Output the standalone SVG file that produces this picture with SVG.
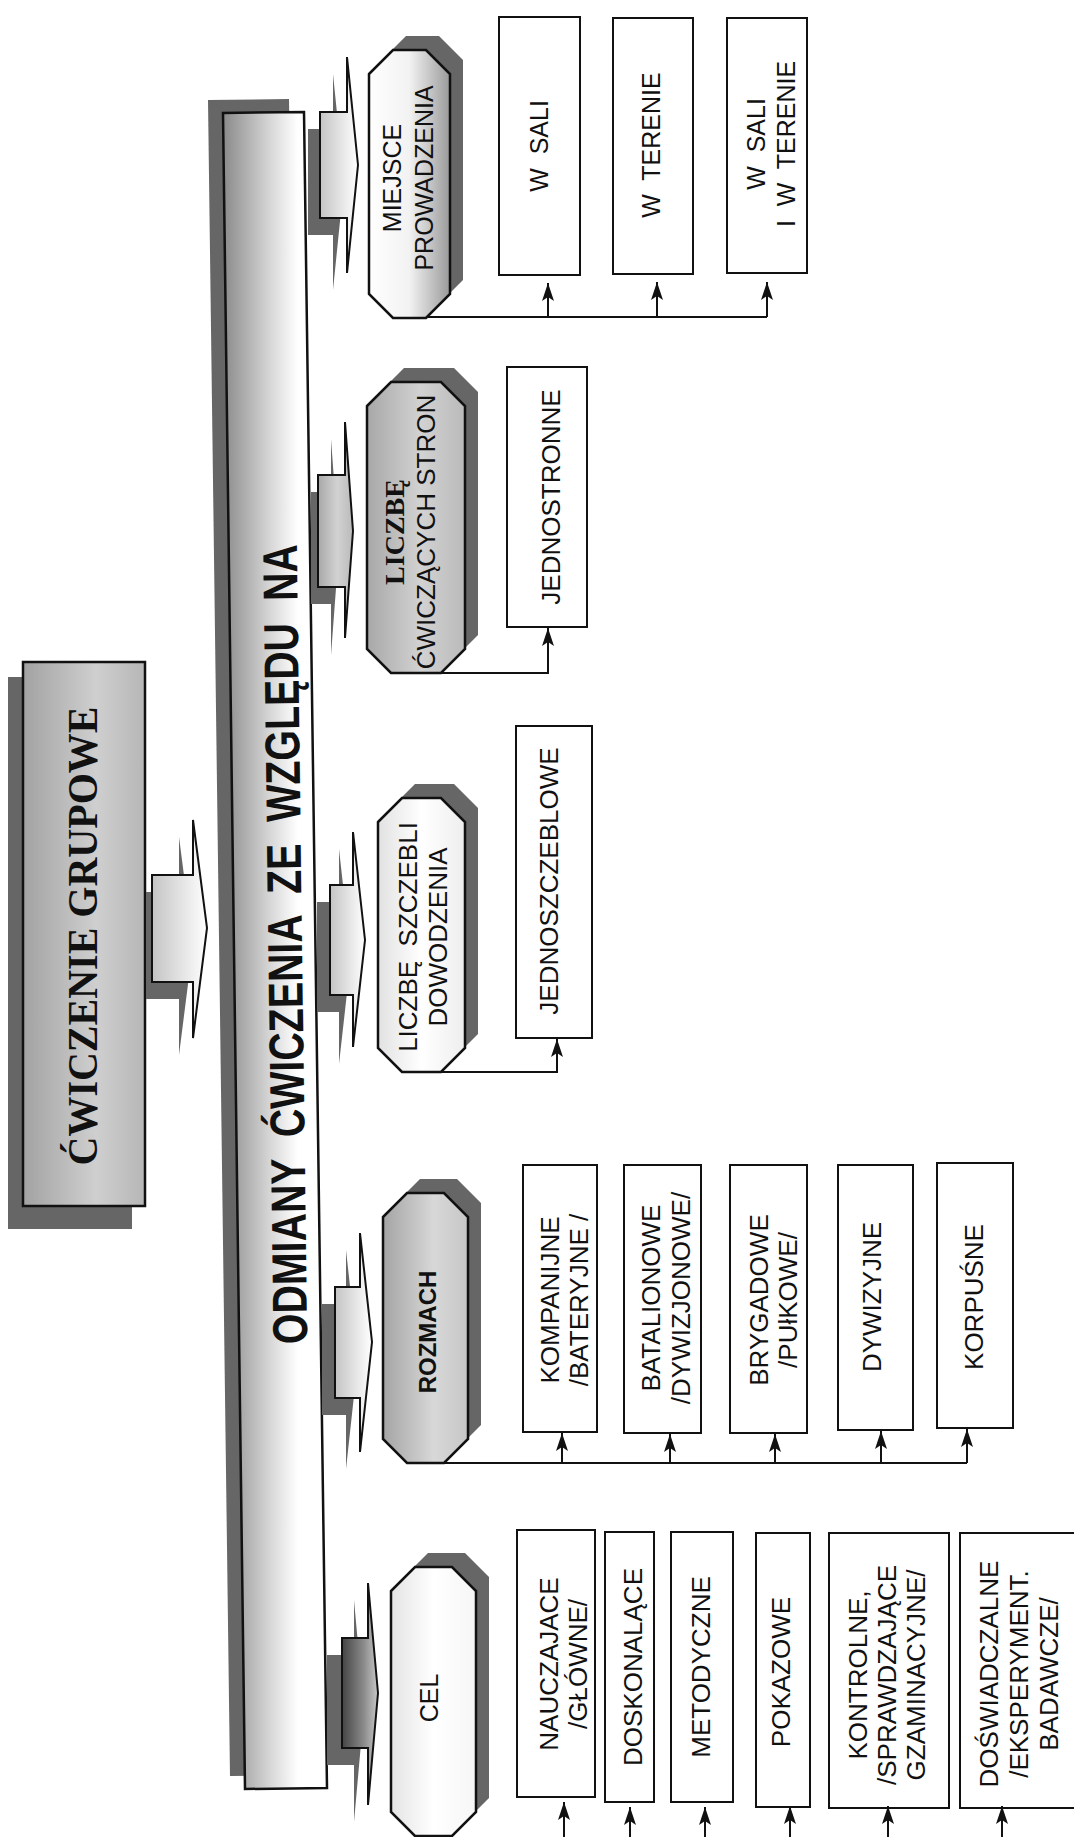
<svg xmlns="http://www.w3.org/2000/svg" width="1074" height="1837" viewBox="0 0 1074 1837">
<style>
 .bg{fill:#fff}
 .box{fill:#fff;stroke:#111;stroke-width:2}
 .oct{stroke:#111;stroke-width:2.5}
 .sh{fill:#666}
 .t{font-family:"Liberation Sans",Arial,sans-serif;font-size:26px;fill:#111}
 .t25{font-size:25px}
 .ser{font-family:"Liberation Serif","Times New Roman",serif}
 .conn{fill:none;stroke:#111;stroke-width:2}
 .blk{stroke:#111;stroke-width:2;stroke-linejoin:miter}
</style>
<defs>
 <linearGradient id="gBar" x1="0" y1="0" x2="1" y2="0">
  <stop offset="0" stop-color="#8a8a8a"/><stop offset="0.45" stop-color="#d6d6d6"/><stop offset="0.72" stop-color="#fff"/><stop offset="1" stop-color="#fff"/>
 </linearGradient>
 <linearGradient id="gTop" x1="0" y1="0" x2="1" y2="0">
  <stop offset="0" stop-color="#a2a2a2"/><stop offset="0.6" stop-color="#cfcfcf"/><stop offset="1" stop-color="#b6b6b6"/>
 </linearGradient>
 <linearGradient id="gArr" x1="0" y1="0" x2="1" y2="0">
  <stop offset="0" stop-color="#c4c4c4"/><stop offset="1" stop-color="#fff"/>
 </linearGradient>
 <linearGradient id="gArrD" x1="0" y1="0" x2="1" y2="0">
  <stop offset="0" stop-color="#444"/><stop offset="0.6" stop-color="#8a8a8a"/><stop offset="1" stop-color="#c8c8c8"/>
 </linearGradient>
 <linearGradient id="gO1" x1="0" y1="0" x2="1" y2="0">
  <stop offset="0" stop-color="#fff"/><stop offset="0.5" stop-color="#f2f2f2"/><stop offset="1" stop-color="#9a9a9a"/>
 </linearGradient>
 <linearGradient id="gO2" x1="0" y1="0" x2="1" y2="0">
  <stop offset="0" stop-color="#a8a8a8"/><stop offset="0.55" stop-color="#d2d2d2"/><stop offset="1" stop-color="#bababa"/>
 </linearGradient>
 <linearGradient id="gO3" x1="0" y1="0" x2="1" y2="0">
  <stop offset="0" stop-color="#e2e2e2"/><stop offset="0.5" stop-color="#fff"/><stop offset="1" stop-color="#eeeeee"/>
 </linearGradient>
 <linearGradient id="gO4" x1="0" y1="0" x2="1" y2="0">
  <stop offset="0" stop-color="#a4a4a4"/><stop offset="0.6" stop-color="#d8d8d8"/><stop offset="1" stop-color="#c6c6c6"/>
 </linearGradient>
 <linearGradient id="gO5" x1="0" y1="0" x2="1" y2="0">
  <stop offset="0" stop-color="#e4e4e4"/><stop offset="0.5" stop-color="#fff"/><stop offset="1" stop-color="#f6f6f6"/>
 </linearGradient>
 <marker id="ah" viewBox="0 0 18 12" refX="18" refY="6" markerWidth="18" markerHeight="12" orient="auto" markerUnits="userSpaceOnUse">
  <path d="M0,0 L18,6 L0,12 L4,6 z" fill="#111"/>
 </marker>
</defs>
<rect class="bg" x="0" y="0" width="1074" height="1837"/>

<g id="n-cwiczenie-grupowe">
 <rect class="sh" x="8" y="677" width="124" height="552"/>
 <rect x="23" y="662" width="122" height="544" fill="url(#gTop)" stroke="#111" stroke-width="2.5"/>
 <text class="ser" transform="translate(97,936) rotate(-90)" text-anchor="middle" style="font-size:42px;font-weight:bold" fill="#111" textLength="459" lengthAdjust="spacingAndGlyphs">ĆWICZENIE GRUPOWE</text>
</g>

<g id="n-odmiany">
 <polygon class="sh" points="208,100 289,99 312,1775 230,1776"/>
 <polygon points="223,113 304,112 327,1788 245,1789" fill="url(#gBar)" stroke="#111" stroke-width="2.5"/>
 <text class="t" transform="translate(302,944) rotate(-90.75)" text-anchor="middle" style="font-size:49px;font-weight:bold" textLength="800" lengthAdjust="spacingAndGlyphs" xml:space="preserve">ODMIANY  ĆWICZENIA  ZE  WZGLĘDU  NA</text>
</g>

<g id="n-miejsce">
 <polygon class="sh" transform="translate(13,-14)" points="369,74 393,50 426,50 450,74 450,294 426,318 393,318 369,294"/>
 <polygon class="oct" fill="url(#gO1)" points="369,74 393,50 426,50 450,74 450,294 426,318 393,318 369,294"/>
 <text class="t t25" transform="translate(401,178) rotate(-90)" text-anchor="middle"><tspan x="0" y="0">MIEJSCE</tspan><tspan x="0" dy="32">PROWADZENIA</tspan></text>
</g>

<g id="n-liczbe-stron">
 <polygon class="sh" transform="translate(13,-14)" points="367,406 391,382 441,382 465,406 465,649 441,673 391,673 367,649"/>
 <polygon class="oct" fill="url(#gO2)" points="367,406 391,382 441,382 465,406 465,649 441,673 391,673 367,649"/>
 <text class="t" transform="translate(404,532) rotate(-90)" text-anchor="middle"><tspan class="ser" x="0" y="0" style="font-size:28px;font-weight:bold">LICZBĘ</tspan><tspan x="0" dy="31">ĆWICZĄCYCH STRON</tspan></text>
</g>

<g id="n-liczbe-szczebli">
 <polygon class="sh" transform="translate(13,-14)" points="378,822 402,798 441,798 465,822 465,1048 441,1072 402,1072 378,1048"/>
 <polygon class="oct" fill="url(#gO3)" points="378,822 402,798 441,798 465,822 465,1048 441,1072 402,1072 378,1048"/>
 <text class="t" transform="translate(417,937) rotate(-90)" text-anchor="middle" xml:space="preserve"><tspan x="0" y="0">LICZBĘ  SZCZEBLI</tspan><tspan x="0" dy="30">DOWODZENIA</tspan></text>
</g>

<g id="n-rozmach">
 <polygon class="sh" transform="translate(13,-14)" points="383,1217 407,1193 444,1193 468,1217 468,1439 444,1463 407,1463 383,1439"/>
 <polygon class="oct" fill="url(#gO4)" points="383,1217 407,1193 444,1193 468,1217 468,1439 444,1463 407,1463 383,1439"/>
 <text class="t" transform="translate(436,1332) rotate(-90)" text-anchor="middle" style="font-size:24px;font-weight:bold">ROZMACH</text>
</g>

<g id="n-cel">
 <polygon class="sh" transform="translate(13,-14)" points="391,1591 415,1567 452,1567 476,1591 476,1812 452,1836 415,1836 391,1812"/>
 <polygon class="oct" fill="url(#gO5)" points="391,1591 415,1567 452,1567 476,1591 476,1812 452,1836 415,1836 391,1812"/>
 <text class="t t25" transform="translate(438,1698) rotate(-90)" text-anchor="middle">CEL</text>
</g>

<g id="n-w-sali"><rect class="box" x="499" y="17" width="81" height="258"/>
 <text class="t t25" transform="translate(548,146) rotate(-90)" text-anchor="middle" xml:space="preserve">W  SALI</text></g>
<g id="n-w-terenie"><rect class="box" x="613" y="18" width="80" height="256"/>
 <text class="t t25" transform="translate(660,145) rotate(-90)" text-anchor="middle" xml:space="preserve">W  TERENIE</text></g>
<g id="n-w-sali-i-terenie"><rect class="box" x="727" y="18" width="80" height="255"/>
 <text class="t t25" transform="translate(765,144) rotate(-90)" text-anchor="middle" xml:space="preserve"><tspan x="0" y="0">W  SALI</tspan><tspan x="0" dy="30">I  W  TERENIE</tspan></text></g>

<g id="n-jednostronne"><rect class="box" x="507" y="367" width="80" height="260"/>
 <text class="t" transform="translate(560,497) rotate(-90)" text-anchor="middle">JEDNOSTRONNE</text></g>
<g id="n-jednoszczeblowe"><rect class="box" x="516" y="726" width="76" height="312"/>
 <text class="t" transform="translate(558,881) rotate(-90)" text-anchor="middle">JEDNOSZCZEBLOWE</text></g>

<g id="n-kompanijne"><rect class="box" x="523" y="1165" width="74" height="267"/>
 <text class="t" transform="translate(559,1300) rotate(-90)" text-anchor="middle"><tspan x="0" y="0">KOMPANIJNE</tspan><tspan x="0" dy="29">/BATERYJNE /</tspan></text></g>
<g id="n-batalionowe"><rect class="box" x="624" y="1165" width="77" height="268"/>
 <text class="t" transform="translate(660,1298) rotate(-90)" text-anchor="middle"><tspan x="0" y="0">BATALIONOWE</tspan><tspan x="0" dy="30">/DYWIZJONOWE/</tspan></text></g>
<g id="n-brygadowe"><rect class="box" x="730" y="1165" width="77" height="268"/>
 <text class="t" transform="translate(768,1300) rotate(-90)" text-anchor="middle"><tspan x="0" y="0">BRYGADOWE</tspan><tspan x="0" dy="29">/PUłKOWE/</tspan></text></g>
<g id="n-dywizyjne"><rect class="box" x="838" y="1165" width="75" height="265"/>
 <text class="t" transform="translate(881,1297) rotate(-90)" text-anchor="middle">DYWIZYJNE</text></g>
<g id="n-korpusne"><rect class="box" x="937" y="1163" width="76" height="265"/>
 <text class="t" transform="translate(983,1297) rotate(-90)" text-anchor="middle">KORPUŚNE</text></g>

<g id="n-nauczajace"><rect class="box" x="517" y="1530" width="78" height="267"/>
 <text class="t" transform="translate(558,1664) rotate(-90)" text-anchor="middle"><tspan x="0" y="0">NAUCZAJACE</tspan><tspan x="0" dy="29">/GŁÓWNE/</tspan></text></g>
<g id="n-doskonalace"><rect class="box" x="605" y="1532" width="49" height="270"/>
 <text class="t" transform="translate(642,1667) rotate(-90)" text-anchor="middle">DOSKONALĄCE</text></g>
<g id="n-metodyczne"><rect class="box" x="671" y="1532" width="62" height="270"/>
 <text class="t" transform="translate(710,1667) rotate(-90)" text-anchor="middle">METODYCZNE</text></g>
<g id="n-pokazowe"><rect class="box" x="756" y="1533" width="54" height="274"/>
 <text class="t" transform="translate(790,1672) rotate(-90)" text-anchor="middle">POKAZOWE</text></g>
<g id="n-kontrolne"><rect class="box" x="829" y="1533" width="120" height="275"/>
 <text class="t" transform="translate(867,1675) rotate(-90)" text-anchor="middle"><tspan x="0" y="0">KONTROLNE,</tspan><tspan x="0" dy="29">/SPRAWDZAJĄCE</tspan><tspan x="0" dy="29">GZAMINACYJNE/</tspan></text></g>
<g id="n-doswiadczalne"><rect class="box" x="960" y="1533" width="125" height="275"/>
 <text class="t" transform="translate(998,1674) rotate(-90)" text-anchor="middle"><tspan x="0" y="0">DOŚWIADCZALNE</tspan><tspan x="0" dy="30">/EKSPERYMENT.</tspan><tspan x="0" dy="30">BADAWCZE/</tspan></text></g>

<g id="connectors">
 <path class="sh" d="M146,892 H179 V837 L193,945 L179,1055 V999 H146 Z"/>
 <path class="sh" d="M308,129 H333 V74 L344,182 L333,290 V235 H308 Z"/>
 <path class="sh" d="M311,492 H331 V439 L339,548 L331,655 V604 H311 Z"/>
 <path class="sh" d="M317,902 H339 V849 L351,957 L339,1064 V1012 H317 Z"/>
 <path class="sh" d="M322,1304 H346 V1250 L358,1359 L346,1469 V1415 H322 Z"/>
 <path class="sh" d="M327,1655 H354 V1600 L364,1710 L354,1822 V1765 H327 Z"/>
 <path class="blk" fill="url(#gArr)" d="M152,875 H193 V820 L207,928 L193,1038 V982 H152 Z"/>
 <path class="blk" fill="url(#gArr)" d="M320,112 H347 V57 L358,165 L347,273 V218 H320 Z"/>
 <path class="blk" fill="url(#gO2)" d="M318,475 H345 V422 L353,531 L345,638 V587 H318 Z"/>
 <path class="blk" fill="url(#gArr)" d="M330,885 H353 V832 L365,940 L353,1047 V995 H330 Z"/>
 <path class="blk" fill="url(#gArr)" d="M335,1287 H360 V1233 L372,1342 L360,1452 V1398 H335 Z"/>
 <path class="blk" fill="url(#gArrD)" d="M342,1638 H368 V1583 L378,1693 L368,1805 V1748 H342 Z"/>
 <path class="conn" d="M426,317 H767"/>
 <line class="conn" x1="548" y1="317" x2="548" y2="283" marker-end="url(#ah)"/>
 <line class="conn" x1="657" y1="317" x2="657" y2="282" marker-end="url(#ah)"/>
 <line class="conn" x1="767" y1="317" x2="767" y2="282" marker-end="url(#ah)"/>
 <path class="conn" d="M441,673 H548 V628" marker-end="url(#ah)"/>
 <path class="conn" d="M441,1072 H557 V1039" marker-end="url(#ah)"/>
 <path class="conn" d="M444,1463 H967"/>
 <line class="conn" x1="562" y1="1463" x2="562" y2="1433" marker-end="url(#ah)"/>
 <line class="conn" x1="670" y1="1463" x2="670" y2="1434" marker-end="url(#ah)"/>
 <line class="conn" x1="775" y1="1463" x2="775" y2="1434" marker-end="url(#ah)"/>
 <line class="conn" x1="881" y1="1463" x2="881" y2="1431" marker-end="url(#ah)"/>
 <line class="conn" x1="967" y1="1463" x2="967" y2="1429" marker-end="url(#ah)"/>
 <line class="conn" x1="564" y1="1845" x2="564" y2="1802" marker-end="url(#ah)"/>
 <line class="conn" x1="630" y1="1845" x2="630" y2="1807" marker-end="url(#ah)"/>
 <line class="conn" x1="705" y1="1845" x2="705" y2="1807" marker-end="url(#ah)"/>
 <line class="conn" x1="790" y1="1845" x2="790" y2="1806" marker-end="url(#ah)"/>
 <line class="conn" x1="888" y1="1845" x2="888" y2="1806" marker-end="url(#ah)"/>
 <line class="conn" x1="1002" y1="1845" x2="1002" y2="1806" marker-end="url(#ah)"/>
</g>
</svg>
